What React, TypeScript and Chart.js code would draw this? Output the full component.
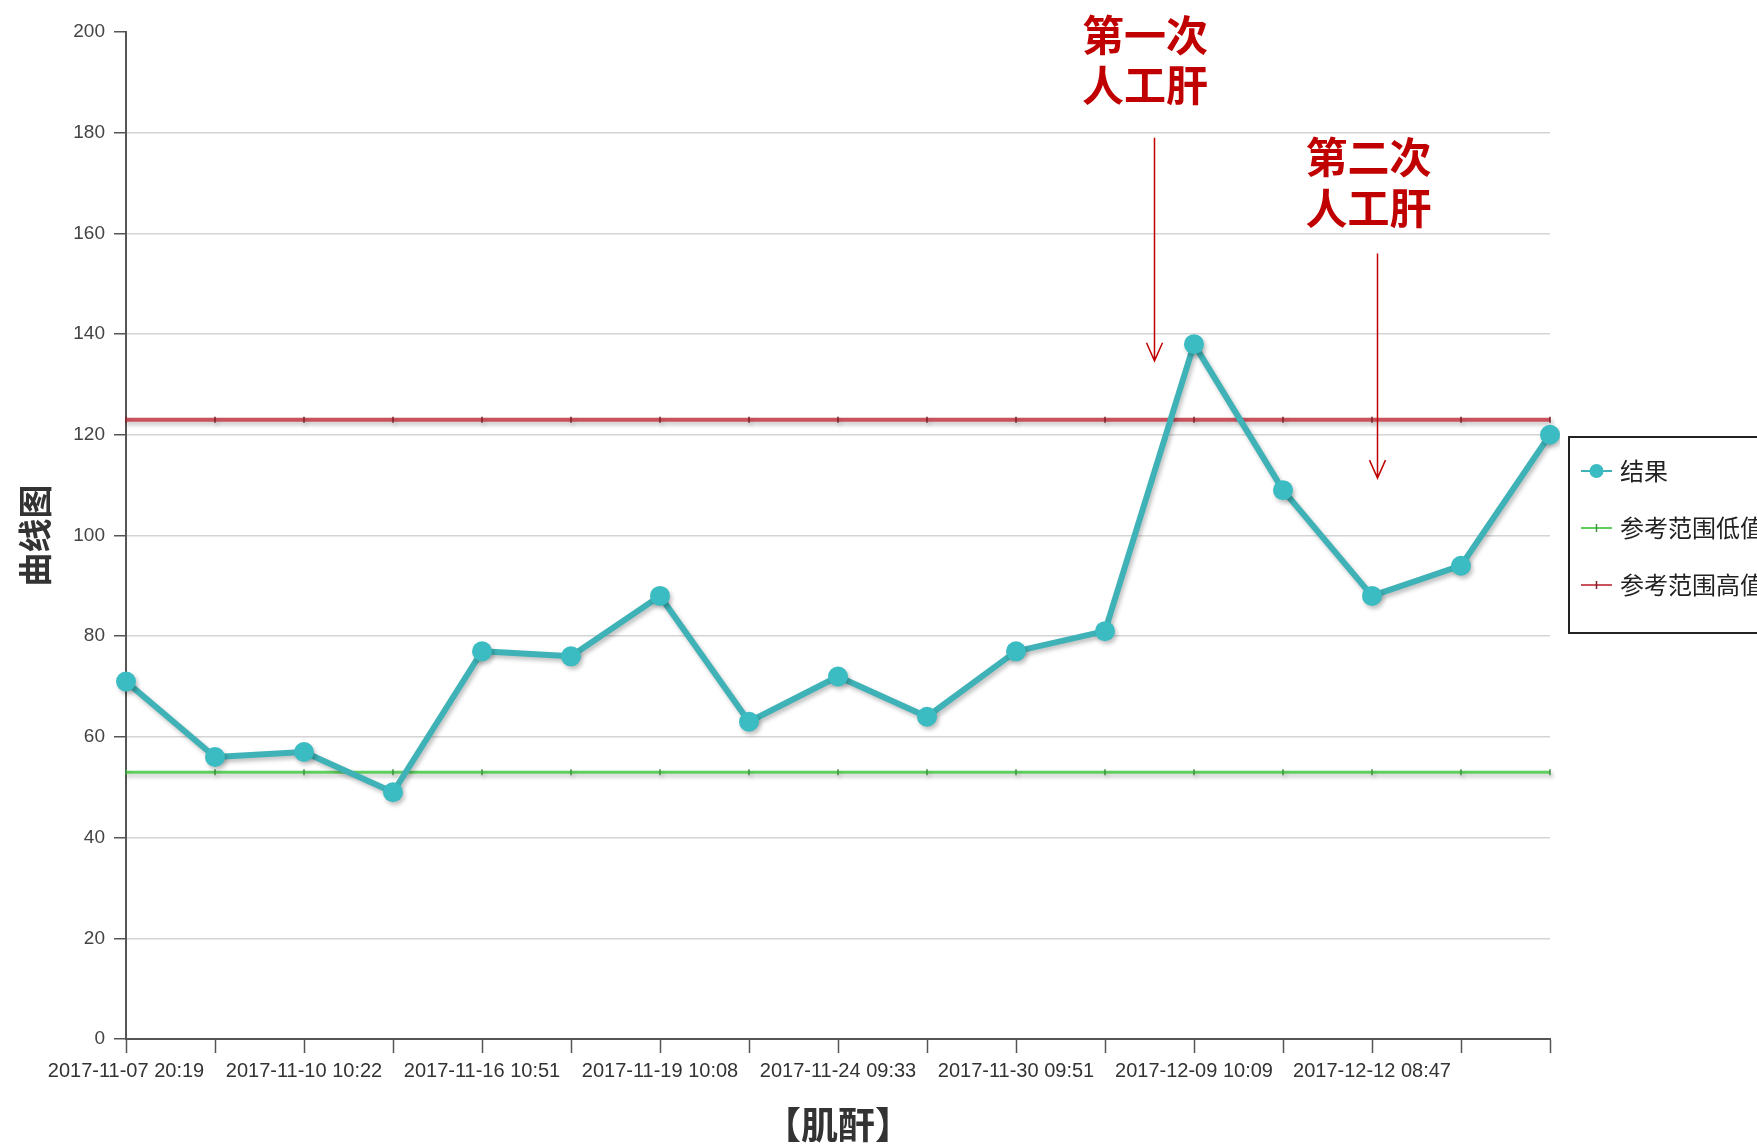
import React, { useEffect, useRef } from "react";
import { Chart, registerables } from "chart.js";

Chart.register(...registerables);

// ---- data ----
const categories: string[] = [
  "2017-11-07 20:19", "", "2017-11-10 10:22", "", "2017-11-16 10:51", "",
  "2017-11-19 10:08", "", "2017-11-24 09:33", "", "2017-11-30 09:51", "",
  "2017-12-09 10:09", "", "2017-12-12 08:47", "", "",
];
const resultValues: number[] = [71, 56, 57, 49, 77, 76, 88, 63, 72, 64, 77, 81, 138, 109, 88, 94, 120];
const refLowValues: number[] = [53, 53, 53, 53, 53, 53, 53, 53, 53, 53, 53, 53, 53, 53, 53, 53, 53];
const refHighValues: number[] = [123, 123, 123, 123, 123, 123, 123, 123, 123, 123, 123, 123, 123, 123, 123, 123, 123];
const seriesNames: string[] = ["结果", "参考范围低值", "参考范围高值"];
const yTickValues: number[] = [0, 20, 40, 60, 80, 100, 120, 140, 160, 180, 200];
const yTitle = "曲线图";
const xTitle = "【肌酐】";

// annotations (category index / value units)
const noteLines: string[][] = [["第一次", "人工肝"], ["第二次", "人工肝"]];
const noteArrowX: number[] = [11.55, 14.06];
const noteArrowFrom: number[] = [179, 156];
const noteArrowTo: number[] = [134.7, 111.4];
const noteTextX: number[] = [11.45, 13.96];
const noteTextY: number[][] = [[199.4, 189.5], [175.2, 165.0]];

const TEAL = "#3eb2b6";
const TEAL_PT = "#3bbcc2";
const RED = "#c9525c";
const GREEN = "#5fcf5f";
const NOTE_RED = "#c00000";
const LATIN = '"Liberation Sans", Arial, sans-serif';
const CJK = '"Noto Sans CJK SC", "Noto Sans", sans-serif';

const shadowPlugin = {
  id: "lineShadow",
  beforeDatasetDraw(chart: any) {
    const c = chart.ctx;
    c.save();
    c.shadowColor = "rgba(0,0,0,0.25)";
    c.shadowBlur = 4;
    c.shadowOffsetX = 2;
    c.shadowOffsetY = 3;
  },
  afterDatasetDraw(chart: any) {
    chart.ctx.restore();
  },
};

const notesPlugin = {
  id: "notes",
  afterDraw(chart: any) {
    const c = chart.ctx;
    const xs = chart.scales.x;
    const ys = chart.scales.y;
    c.save();
    for (let i = 0; i < noteLines.length; i++) {
      const ax = Math.round(xs.getPixelForValue(noteArrowX[i])) + 0.5;
      const y0 = ys.getPixelForValue(noteArrowFrom[i]);
      const y1 = ys.getPixelForValue(noteArrowTo[i]);
      c.strokeStyle = NOTE_RED;
      c.lineWidth = 1.5;
      c.beginPath();
      c.moveTo(ax, y0);
      c.lineTo(ax, y1);
      c.moveTo(ax - 8, y1 - 18);
      c.lineTo(ax, y1);
      c.lineTo(ax + 8, y1 - 18);
      c.stroke();
      c.fillStyle = NOTE_RED;
      c.font = `bold 42px ${CJK}`;
      c.textAlign = "center";
      c.textBaseline = "middle";
      const tx = xs.getPixelForValue(noteTextX[i]);
      noteLines[i].forEach((t, j) => {
        c.fillText(t, tx, ys.getPixelForValue(noteTextY[i][j]));
      });
    }
    c.restore();
  },
};

const legendPlugin = {
  id: "sideLegend",
  afterDraw(chart: any) {
    const c = chart.ctx;
    const ca = chart.chartArea;
    const left = ca.right + 19;
    const top = 437;
    c.save();
    c.fillStyle = "#ffffff";
    c.fillRect(left, top, 300, 196);
    c.strokeStyle = "#222";
    c.lineWidth = 2;
    c.strokeRect(left, top, 300, 196);
    const rows = [471, 528, 585];
    chart.data.datasets.forEach((ds: any, i: number) => {
      const y = rows[i];
      const mx0 = left + 12;
      const mx1 = left + 43;
      const mid = (mx0 + mx1) / 2;
      c.strokeStyle = ds.borderColor;
      c.lineWidth = 2;
      c.beginPath();
      c.moveTo(mx0, y);
      c.lineTo(mx1, y);
      c.stroke();
      if (i === 0) {
        c.fillStyle = ds.pointBackgroundColor;
        c.beginPath();
        c.arc(mid, y, 7, 0, Math.PI * 2);
        c.fill();
      } else {
        c.strokeStyle = ds.pointBorderColor;
        c.lineWidth = 1.5;
        c.beginPath();
        c.moveTo(mid, y - 4);
        c.lineTo(mid, y + 4);
        c.stroke();
      }
      c.fillStyle = "#222";
      c.font = `24px ${CJK}`;
      c.textAlign = "left";
      c.textBaseline = "middle";
      c.fillText(ds.label, left + 51, y);
    });
    c.restore();
  },
};

export default function App() {
  const ref = useRef<HTMLCanvasElement | null>(null);
  useEffect(() => {
    if (!ref.current) return;
    const chart = new Chart(ref.current, {
      type: "line",
      data: {
        labels: categories,
        datasets: [
          {
            label: seriesNames[0],
            data: resultValues,
            borderColor: TEAL,
            backgroundColor: TEAL_PT,
            pointBackgroundColor: TEAL_PT,
            pointBorderColor: TEAL_PT,
            pointBorderWidth: 0,
            pointRadius: 10,
            borderWidth: 6,
            borderJoinStyle: "round",
            tension: 0,
          },
          {
            label: seriesNames[1],
            data: refLowValues,
            borderColor: GREEN,
            backgroundColor: GREEN,
            pointStyle: "line",
            pointRotation: 90,
            pointRadius: 3,
            pointBorderWidth: 1.5,
            pointBorderColor: "#3f8f3f",
            borderWidth: 3,
          },
          {
            label: seriesNames[2],
            data: refHighValues,
            borderColor: RED,
            backgroundColor: RED,
            pointStyle: "line",
            pointRotation: 90,
            pointRadius: 3,
            pointBorderWidth: 1.5,
            pointBorderColor: "#7a2028",
            borderWidth: 4,
          },
        ],
      },
      options: {
        responsive: false,
        animation: false,
        events: [],
        layout: { padding: { top: 32, right: 207, left: 0, bottom: 0 } },
        plugins: {
          legend: { display: false },
          tooltip: { enabled: false },
          title: { display: false },
        },
        scales: {
          x: {
            type: "category",
            offset: false,
            afterFit: (s: any) => { s.height = 108; },
            grid: {
              display: true,
              drawOnChartArea: false,
              drawTicks: true,
              tickLength: 14,
              tickColor: "#555",
              tickWidth: 1.5,
            },
            border: { display: true, color: "#555", width: 2 },
            ticks: {
              autoSkip: false,
              maxRotation: 0,
              minRotation: 0,
              padding: 6,
              color: "#333",
              font: { family: LATIN, size: 20 },
            },
            title: {
              display: true,
              text: xTitle,
              color: "#333",
              font: { family: CJK, size: 37, weight: "bold" },
              padding: { top: 0, bottom: 0 },
            },
          },
          y: {
            min: 0,
            max: 200,
            afterFit: (s: any) => { s.width = 126; },
            afterBuildTicks: (s: any) => { s.ticks = yTickValues.map((v) => ({ value: v })); },
            grid: {
              color: (ctx: any) => (ctx.tick && (ctx.tick.value === 200 || ctx.tick.value === 0) ? "rgba(0,0,0,0)" : "#d4d4d4"),
              lineWidth: 1.5,
              drawTicks: true,
              tickLength: 12,
              tickColor: "#555",
              tickWidth: 1.5,
            },
            border: { display: true, color: "#555", width: 2 },
            ticks: {
              padding: 9,
              color: "#444",
              font: { family: LATIN, size: 19 },
            },
            title: {
              display: true,
              text: yTitle,
              color: "#333",
              font: { family: CJK, size: 34, weight: "bold" },
              padding: { top: 15, bottom: 0 },
            },
          },
        },
      },
      plugins: [shadowPlugin, notesPlugin, legendPlugin],
    } as any);
    return () => chart.destroy();
  }, []);
  return (
    <canvas
      ref={ref}
      width={1757}
      height={1147}
      style={{ position: "absolute", left: 0, top: 0, display: "block" }}
    />
  );
}
